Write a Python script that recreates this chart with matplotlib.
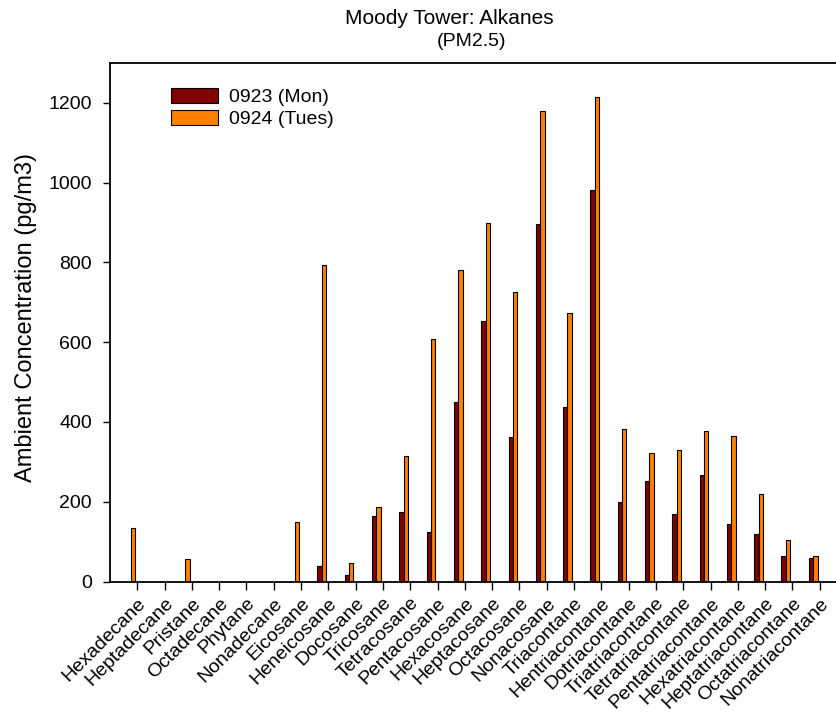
import numpy as np
from matplotlib import pyplot as plt

compounds = ['Hexadecane', 'Heptadecane', 'Pristane', 'Octadecane', 'Phytane',
             'Nonadecane', 'Eicosane', 'Heneicosane', 'Docosane', 'Tricosane',
             'Tetracosane', 'Pentacosane', 'Hexacosane', 'Heptacosane', 'Octacosane',
             'Nonacosane', 'Triacontane', 'Hentriacontane', 'Dotriacontane',
             'Triatriacontane', 'Tetratriacontane', 'Pentatriacontane',
             'Hexatriacontane', 'Heptatriacontane', 'Octatriacontane', 'Nonatriacontane']

mon_0923 = [0, 0, 0, 0, 0, 0, 0, 40, 17, 164, 175, 125, 449, 652, 362,
            896, 438, 982, 199, 253, 169, 266, 143, 120, 63, 60]
tues_0924 = [134, 0, 57, 0, 0, 0, 149, 793, 47, 186, 314, 608, 780, 898, 725,
             1180, 674, 1216, 383, 322, 329, 377, 366, 220, 103, 65]

plt.rcParams['font.family'] = ['Liberation Sans', 'DejaVu Sans']

fig = plt.figure(figsize=(8.36, 7.23), dpi=100)
ax = fig.add_axes([110 / 836, 141.5 / 723, 737 / 836, 518.5 / 723])

x = np.arange(len(compounds))
width = 0.16

# soft grey drop shadow behind each bar, as in the original export
for offset, vals in [(-0.40, mon_0923), (-0.24, tues_0924)]:
    ax.bar(x + offset + 0.035, vals, width, align='edge', color='#a0a0a0',
           linewidth=0, zorder=1)

ax.bar(x - 0.40, mon_0923, width, align='edge', color='#800000',
       edgecolor='black', linewidth=0.8, label='0923 (Mon)', zorder=2)
ax.bar(x - 0.24, tues_0924, width, align='edge', color='#ff8000',
       edgecolor='black', linewidth=0.8, label='0924 (Tues)', zorder=2)

ax.set_xlim(-1, 26)
ax.set_ylim(0, 1300)
ax.set_yticks(range(0, 1201, 200))
ax.set_xticks(x)
ax.set_xticklabels(compounds, rotation=45, ha='right', rotation_mode='anchor', fontsize=14)
ax.tick_params(axis='y', labelsize=14, direction='out', length=5, width=1, pad=8)
ax.tick_params(axis='x', direction='out', length=5.5, width=1, pad=4)
for side in ['left', 'bottom', 'top', 'right']:
    ax.spines[side].set_linewidth(1.3)

fig.text(26 / 836, 1 - 318 / 723, 'Ambient Concentration (pg/m3)', rotation=90,
         ha='center', va='center', fontsize=17)

fig.text(449 / 836, 1 - 18 / 723, 'Moody Tower: Alkanes', ha='center', va='center', fontsize=15)
fig.text(471 / 836, 1 - 42 / 723, '(PM2.5)', ha='center', va='center', fontsize=14)

ax.legend(loc='upper left', bbox_to_anchor=(171 / 836, 1 - 88 / 723),
          bbox_transform=fig.transFigure, frameon=False, fontsize=14, borderpad=0,
          borderaxespad=0, handlelength=2.4, handleheight=0.8, handletextpad=0.6,
          labelspacing=0.2)

fig.savefig('out.png', dpi=100)
